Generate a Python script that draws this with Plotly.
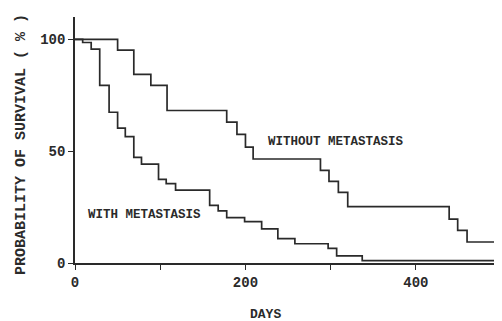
import plotly.graph_objects as go

# Kaplan-Meier style survival data
days_without = [0, 50, 69, 89, 108, 178, 190, 200, 209, 288, 298, 309, 320, 439, 449, 460, 501]
surv_without = [100, 95.2, 84.3, 79.4, 68.2, 63.0, 57.5, 51.8, 46.5, 41.4, 36.5, 31.6, 25.2, 19.6, 14.6, 9.4, 9.4]

days_with = [0, 9, 19, 29, 40, 50, 59, 69, 78, 98, 107, 118, 158, 168, 178, 199, 219, 238, 258, 297, 307, 337, 501]
surv_with = [100, 98.6, 95.6, 79.4, 67.4, 60.3, 56.5, 47.2, 44.2, 37.4, 35.5, 32.6, 25.8, 23.3, 20.3, 18.5, 15.3, 10.9, 8.6, 6.5, 3.2, 1.1, 1.1]

x_tickvals = [0, 100, 200, 300, 400, 500]
x_ticktext = ["0", "", "200", "", "400", ""]
y_tickvals = [0, 50, 100]
y_ticktext = ["0", "50", "100"]

FONT = "Liberation Mono, Courier New, monospace"
INK = "#2a2a2a"

fig = go.Figure()
fig.add_trace(go.Scatter(x=days_without, y=surv_without, mode="lines",
                         line=dict(shape="hv", color=INK, width=1.7),
                         name="WITHOUT METASTASIS", showlegend=False))
fig.add_trace(go.Scatter(x=days_with, y=surv_with, mode="lines",
                         line=dict(shape="hv", color=INK, width=1.7),
                         name="WITH METASTASIS", showlegend=False))

fig.update_layout(
    width=494, height=313,
    margin=dict(l=67, r=0, t=9, b=58),
    plot_bgcolor="white", paper_bgcolor="white",
    font=dict(family=FONT, color=INK, size=14, weight="bold"),
    xaxis=dict(range=[0, 501], showgrid=False, zeroline=False,
               showline=True, linecolor=INK, linewidth=1.6,
               ticks="outside", ticklen=5, tickwidth=1.4, tickcolor=INK,
               tickvals=x_tickvals, ticktext=x_ticktext,
               tickfont=dict(family=FONT, size=14, color=INK, weight="bold")),
    yaxis=dict(range=[0, 110], showgrid=False, zeroline=False,
               showline=True, linecolor=INK, linewidth=1.6,
               ticks="outside", ticklen=5, tickwidth=1.4, tickcolor=INK,
               tickvals=y_tickvals, ticktext=y_ticktext,
               tickfont=dict(family=FONT, size=14, color=INK, weight="bold")),
    annotations=[
        dict(text="WITHOUT METASTASIS", x=306, y=54, xref="x", yref="y",
             showarrow=False, font=dict(family=FONT, size=12.5, color=INK, weight="bold")),
        dict(text="WITH METASTASIS", x=82, y=21.5, xref="x", yref="y",
             showarrow=False, font=dict(family=FONT, size=12.5, color=INK, weight="bold")),
        dict(text="PROBABILITY OF SURVIVAL ( % )", x=-0.124, y=0.48, xref="paper", yref="paper",
             textangle=-90, showarrow=False, xanchor="center", yanchor="middle",
             font=dict(family=FONT, size=15, color=INK, weight="bold")),
        dict(text="DAYS", x=0.445, y=-0.211, xref="paper", yref="paper",
             showarrow=False, xanchor="center", yanchor="middle",
             font=dict(family=FONT, size=13, color=INK, weight="bold")),
    ],
)

fig.write_html("out.html")
